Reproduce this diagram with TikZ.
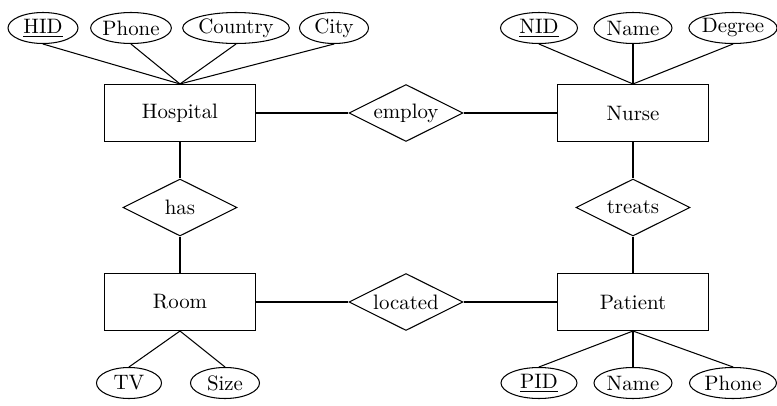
\documentclass[tikz,border=0pt]{standalone}
\usetikzlibrary{shapes.geometric}
\begin{document}
\begin{tikzpicture}[x=0.479pt,y=-0.479pt,line width=0.5pt,
  entity/.style={draw,rectangle,inner sep=0pt,minimum width=151*0.479pt,minimum height=57*0.479pt},
  rel/.style={draw,diamond,aspect=2,inner sep=0pt,minimum width=114*0.479pt,minimum height=57*0.479pt},
  attr/.style={draw,ellipse,inner sep=0pt,minimum height=31*0.479pt}]
\useasboundingbox (0,0) rectangle (777,406);
% entities
\node[entity] (hosp) at (180,113) {Hospital};
\node[entity] (nurse) at (633,113) {Nurse};
\node[entity] (room) at (180,302) {Room};
\node[entity] (pat) at (633,302) {Patient};
% relationships
\node[rel] (employ) at (406,113) {employ};
\node[rel] (has) at (180,207.5) {has};
\node[rel] (treats) at (633,207.5) {treats};
\node[rel] (located) at (406,302) {located};
% attributes top
\node[attr,minimum width=70*0.479pt] (hid) at (43,28) {\underline{HID}};
\node[attr,minimum width=78*0.479pt] (hphone) at (131,28) {Phone};
\node[attr,minimum width=102*0.479pt] (country) at (236,28) {Country};
\node[attr,minimum width=69*0.479pt] (city) at (334,28) {City};
\node[attr,minimum width=77*0.479pt] (nid) at (539,28) {\underline{NID}};
\node[attr,minimum width=78*0.479pt] (nname) at (633,28) {Name};
\node[attr,minimum width=87*0.479pt] (degree) at (733,28) {Degree};
% attributes bottom
\node[attr,minimum width=65*0.479pt] (tv) at (129,383) {TV};
\node[attr,minimum width=69*0.479pt] (size) at (225,383) {Size};
\node[attr,minimum width=76*0.479pt] (pid) at (539,383) {\underline{PID}};
\node[attr,minimum width=78*0.479pt] (pname) at (633,383) {Name};
\node[attr,minimum width=87*0.479pt] (pphone) at (733,383) {Phone};
% connectors
\foreach \a in {hid,hphone,country,city} \draw (\a.south) -- (hosp.north);
\foreach \a in {nid,nname,degree} \draw (\a.south) -- (nurse.north);
\foreach \a in {tv,size} \draw (room.south) -- (\a.north);
\foreach \a in {pid,pname,pphone} \draw (pat.south) -- (\a.north);
\draw (hosp.east) -- (employ.west);
\draw (employ.east) -- (nurse.west);
\draw (hosp.south) -- (has.north);
\draw (has.south) -- (room.north);
\draw (nurse.south) -- (treats.north);
\draw (treats.south) -- (pat.north);
\draw (room.east) -- (located.west);
\draw (located.east) -- (pat.west);
\end{tikzpicture}
\end{document}
